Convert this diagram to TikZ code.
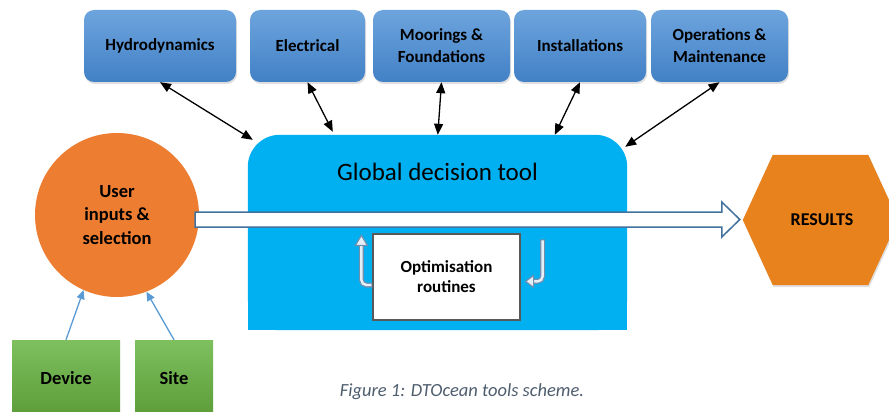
\documentclass[tikz,border=0pt]{standalone}
\usepackage{fontspec}
\setmainfont{Carlito}
\usetikzlibrary{arrows.meta,calc,shadows}

\definecolor{boxtop}{HTML}{6DA4DD}
\definecolor{boxbot}{HTML}{4281C6}
\definecolor{gdtblue}{HTML}{00B0F0}
\definecolor{userorange}{HTML}{ED7D31}
\definecolor{hexorange}{HTML}{E8821D}
\definecolor{greentop}{HTML}{7EBF5F}
\definecolor{greenbot}{HTML}{5C9D38}
\definecolor{arrowblue}{HTML}{41719C}
\definecolor{inblue}{HTML}{5B9BD5}
\definecolor{optgray}{HTML}{595959}
\definecolor{turnline}{HTML}{7090B2}
\definecolor{turnfill}{HTML}{E6EEF7}
\definecolor{captiongray}{HTML}{4E5D6E}

\begin{document}
\begin{tikzpicture}[x=1pt,y=-1pt,
  toolbox/.style={rounded corners=10pt, top color=boxtop, bottom color=boxbot,
    draw=none, minimum height=72pt, inner sep=2pt, align=center,
    font=\bfseries\fontsize{17}{22}\selectfont,
    drop shadow={opacity=0.25, shadow xshift=1pt, shadow yshift=-2pt}},
  greenbox/.style={top color=greentop, bottom color=greenbot, draw=none,
    minimum height=76pt, inner sep=0pt, font=\bfseries\fontsize{18.5}{22}\selectfont},
  link/.style={{Triangle[length=11pt,width=9pt]}-{Triangle[length=11pt,width=9pt]},
    line width=1.3pt, black},
  inarrow/.style={-{Triangle[length=9pt,width=8pt]}, line width=1.3pt, inblue},
  turnouter/.style={line width=5pt, turnline, rounded corners=5pt},
  turninner/.style={line width=2.4pt, turnfill, rounded corners=5pt},
  turnhead/.style={fill=turnfill, draw=turnline, line width=1.2pt, line join=miter}
]
\useasboundingbox (0,0) rectangle (889,412);
\clip (0,0) rectangle (889,412);
\fill[white] (0,0) rectangle (889,412);

% module boxes along the top
\node[toolbox, minimum width=152pt] (hyd) at (160,46) {Hydrodynamics};
\node[toolbox, minimum width=115pt] (ele) at (307.5,46) {Electrical};
\node[toolbox, minimum width=137pt] (moo) at (441.5,46) {Moorings \&\\Foundations};
\node[toolbox, minimum width=132pt] (ins) at (580,46) {Installations};
\node[toolbox, minimum width=137pt] (om) at (719.5,46) {Operations \&\\Maintenance};

% central tool: rounded on top, square at the bottom
\node[minimum width=379pt, minimum height=195pt, inner sep=0pt] (gdt) at (437.5,232.5) {};
\fill[gdtblue, rounded corners=32pt] (gdt.south west) rectangle (gdt.north east);
\fill[gdtblue] (gdt.south west) rectangle (gdt.east);
\node[font=\fontsize{25}{30}\selectfont] (gdttitle) at ($(gdt.north)+(0,37)$) {Global decision tool};

% user inputs
\node[circle, fill=userorange, minimum size=164pt, inner sep=0pt, align=center,
  font=\bfseries\fontsize{18.5}{23.5}\selectfont] (uis) at (117,215) {User\\inputs \&\\selection};

% results hexagon
\node[minimum width=155pt, minimum height=130pt, inner sep=0pt] (res) at (820.5,220) {};
\fill[hexorange, drop shadow={opacity=0.25, shadow xshift=1pt, shadow yshift=-2pt}]
  (res.west) -- ($(res.north west)+(30,0)$) -- ($(res.north east)+(-30,0)$)
  -- (res.east) -- ($(res.south east)+(-30,0)$) -- ($(res.south west)+(30,0)$) -- cycle;
\node[font=\bfseries\fontsize{18}{22}\selectfont] (restext) at ($(res.center)+(1.5,0)$) {RESULTS};

% hollow arrow from inputs to results
\coordinate (a0) at ($(uis.east)+(-4,4.5)$);
\coordinate (tip) at ($(res.west)+(-3,-0.5)$);
\coordinate (sh) at ($(tip)+(-18,0)$);
\draw[arrowblue, fill=white, line width=1.5pt, line join=miter]
  ($(a0)+(0,-7.5)$) -- ($(sh)+(0,-7.5)$) -- ($(sh)+(0,-17.5)$) -- (tip)
  -- ($(sh)+(0,17.5)$) -- ($(sh)+(0,7.5)$) -- ($(a0)+(0,7.5)$) -- cycle;

% optimisation loop
\node[draw=optgray, line width=1.2pt, fill=white, minimum width=147pt, minimum height=86pt,
  inner sep=0pt, align=center, font=\bfseries\fontsize{17}{20}\selectfont] (opt) at (446.5,277)
  {Optimisation\\routines};

\draw[turnouter] ($(opt.west)+(0,8)$) -- ($(opt.west)+(-11,8)$) -- ($(opt.north west)+(-11,12)$);
\draw[turninner] ($(opt.west)+(-1,8)$) -- ($(opt.west)+(-11,8)$) -- ($(opt.north west)+(-11,12)$);
\draw[turnhead] ($(opt.north west)+(-11,2)$) -- ($(opt.north west)+(-17,12)$)
  -- ($(opt.north west)+(-5,12)$) -- cycle;

\draw[turnouter] ($(opt.north east)+(22,6)$) -- ($(opt.north east)+(22,48)$) -- ($(opt.north east)+(13,48)$);
\draw[turninner] ($(opt.north east)+(22,7)$) -- ($(opt.north east)+(22,48)$) -- ($(opt.north east)+(13,48)$);
\draw[turnhead] ($(opt.north east)+(5,48)$) -- ($(opt.north east)+(13,42)$)
  -- ($(opt.north east)+(13,54)$) -- cycle;

% links between modules and the central tool
\draw[link] (hyd.south) -- ($(gdt.north west)+(5,5)$);
\draw[link] (ele.south) -- ($(gdt.north west)+(85,-3)$);
\draw[link] (moo.south) -- ($(gdt.north west)+(190,0)$);
\draw[link] (ins.south) -- ($(gdt.north west)+(307,0)$);
\draw[link] (om.south) -- ($(gdt.north east)+(-2,12)$);

% device and site inputs
\node[greenbox, minimum width=108pt] (dev) at (66,378) {Device};
\node[greenbox, minimum width=78pt] (site) at (174,378) {Site};
\draw[inarrow] (dev.north) -- (uis.246);
\draw[inarrow] (site.north) -- (uis.291);

% caption
\node[font=\itshape\fontsize{18.5}{22}\selectfont, text=captiongray] (cap) at (462,392)
  {Figure 1: DTOcean tools scheme.};
\end{tikzpicture}
\end{document}
